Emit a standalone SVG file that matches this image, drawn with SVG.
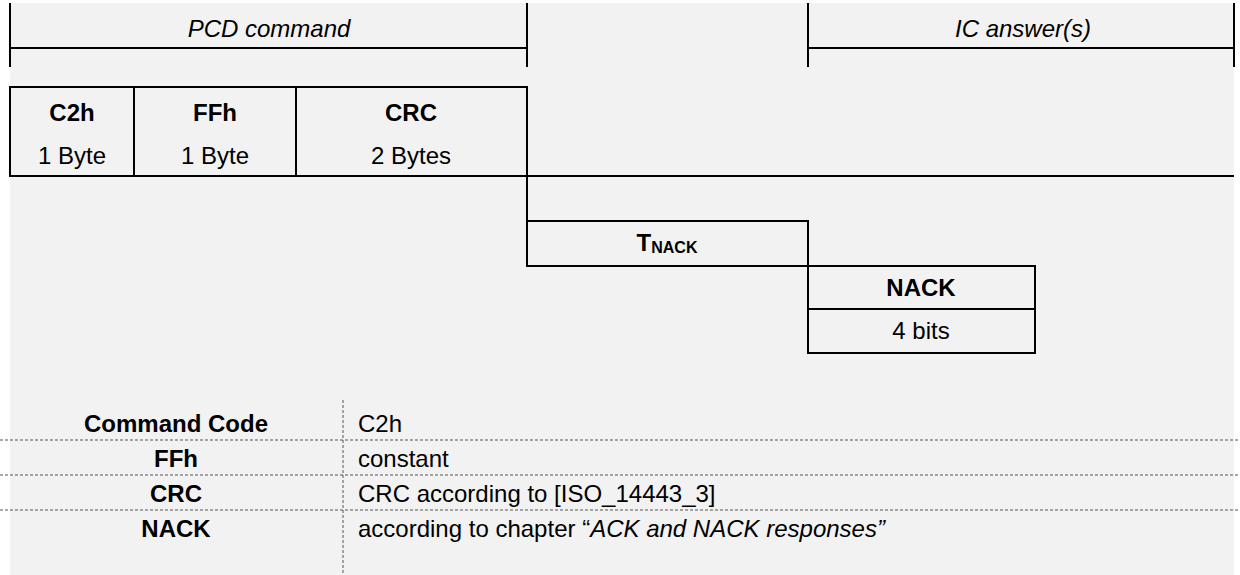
<svg xmlns="http://www.w3.org/2000/svg" width="1240" height="575" viewBox="0 0 1240 575">
<style>
.ln{stroke:#000;stroke-width:2;fill:none}
.dl{stroke:#555;stroke-width:1;stroke-dasharray:3,2;fill:none}
text{font-family:"Liberation Sans",Arial,sans-serif;font-size:24px;fill:#000}
.b{font-weight:bold}
.i{font-style:italic}
.c{text-anchor:middle}
</style>
<rect x="0" y="0" width="1240" height="575" fill="#fff"/>
<rect x="10" y="3" width="1224" height="572" fill="#f2f2f2"/>
<g id="header-pcd">
<path class="ln" d="M10,3V67M527,3V67M10,48H527"/>
<text class="i c" x="269" y="37">PCD command</text>
</g>
<g id="header-ic">
<path class="ln" d="M808,3V67M1234,3V67M808,48H1234"/>
<text class="i c" x="1023" y="37">IC answer(s)</text>
</g>
<g id="pcd-frame">
<rect class="ln" x="10" y="87" width="517" height="89"/>
<path class="ln" d="M134,87V176M296,87V176"/>
<text class="b c" x="72" y="121">C2h</text>
<text class="c" x="72" y="164">1 Byte</text>
<text class="b c" x="215" y="121">FFh</text>
<text class="c" x="215" y="164">1 Byte</text>
<text class="b c" x="411" y="121">CRC</text>
<text class="c" x="411" y="164">2 Bytes</text>
</g>
<g id="tnack">
<path class="ln" d="M527,176V266H808M527,221H808V266"/>
<text class="b c" x="667" y="251">T<tspan font-size="16" dy="2">NACK</tspan></text>
</g>
<g id="nack">
<rect class="ln" x="808" y="266" width="227" height="87"/>
<path class="ln" d="M808,309H1035"/>
<text class="b c" x="921" y="296">NACK</text>
<text class="c" x="921" y="339">4 bits</text>
</g>
<g id="connectors">
<path class="ln" d="M527,176H1234"/>
</g>
<g id="table">
<path class="dl" d="M343,400V575M0,440H1240M0,475H1240M0,510H1240"/>
<text class="b c" x="176" y="432">Command Code</text>
<text x="358" y="432">C2h</text>
<text class="b c" x="176" y="467">FFh</text>
<text x="358" y="467">constant</text>
<text class="b c" x="176" y="502">CRC</text>
<text x="358" y="502">CRC according to [ISO_14443_3]</text>
<text class="b c" x="176" y="537">NACK</text>
<text x="358" y="537">according to chapter “<tspan font-style="italic">ACK and NACK responses”</tspan></text>
</g>
</svg>
